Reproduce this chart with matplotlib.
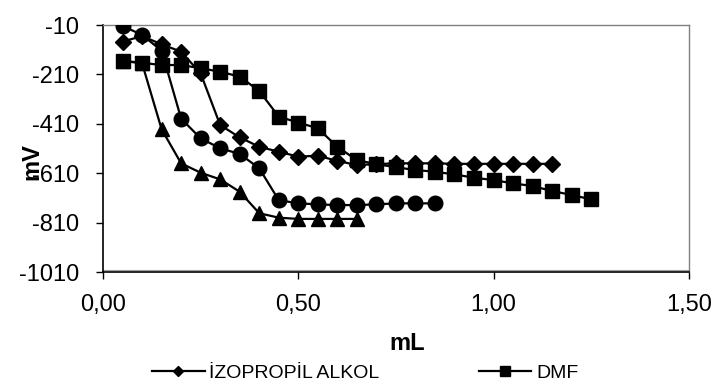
import matplotlib
matplotlib.use("Agg")
import matplotlib.pyplot as plt
from matplotlib.lines import Line2D
from matplotlib.ticker import FuncFormatter

plt.rcParams['font.family'] = ['Liberation Sans', 'DejaVu Sans']

# Data (mL vs mV)
x_izo = [0.05, 0.10, 0.15, 0.20, 0.25, 0.30, 0.35, 0.40, 0.45, 0.50, 0.55, 0.60, 0.65,
         0.70, 0.75, 0.80, 0.85, 0.90, 0.95, 1.00, 1.05, 1.10, 1.15]
y_izo = [-77, -55, -88, -118, -206, -415, -465, -503, -523, -543, -539, -560, -577,
         -573, -570, -570, -570, -572, -572, -572, -572, -572, -572]

x_dmf = [0.05, 0.10, 0.15, 0.20, 0.25, 0.30, 0.35, 0.40, 0.45, 0.50, 0.55, 0.60, 0.65,
         0.70, 0.75, 0.80, 0.85, 0.90, 0.95, 1.00, 1.05, 1.10, 1.15, 1.20, 1.25]
y_dmf = [-155, -163, -172, -172, -185, -199, -219, -277, -381, -405, -428, -503, -557,
         -573, -586, -597, -604, -615, -628, -638, -651, -662, -682, -698, -716]

x_circ = [0.05, 0.10, 0.15, 0.20, 0.25, 0.30, 0.35, 0.40, 0.45, 0.50, 0.55, 0.60, 0.65,
          0.70, 0.75, 0.80, 0.85]
y_circ = [-14, -50, -114, -389, -469, -509, -532, -590, -719, -732, -736, -739, -739,
          -736, -732, -732, -732]

x_tri = [0.05, 0.10, 0.15, 0.20, 0.25, 0.30, 0.35, 0.40, 0.45, 0.50, 0.55, 0.60, 0.65]
y_tri = [-155, -165, -432, -570, -608, -635, -685, -772, -790, -795, -795, -795, -795]

legend_labels = ['İZOPROPİL ALKOL', 'DMF']
yticks = [-1010, -810, -610, -410, -210, -10]
xticks = [0.0, 0.5, 1.0, 1.5]

fig = plt.figure(figsize=(7.19, 3.91), dpi=100)
ax = fig.add_axes([0.1433, 0.3043, 0.8147, 0.6317])

lw = 1.6
ax.plot(x_izo, y_izo, color='black', lw=lw, marker='D', ms=8, zorder=3)
ax.plot(x_dmf, y_dmf, color='black', lw=lw, marker='s', ms=9.5, zorder=4)
ax.plot(x_circ, y_circ, color='black', lw=lw, marker='o', ms=10.5, zorder=5)
ax.plot(x_tri, y_tri, color='black', lw=lw, marker='^', ms=9.5, zorder=6)

ax.set_xlim(0, 1.5)
ax.set_ylim(-1010, -10)
ax.set_xticks(xticks)
ax.set_yticks(yticks)
ax.xaxis.set_major_formatter(FuncFormatter(lambda v, p: f"{v:.2f}".replace('.', ',')))
ax.yaxis.set_major_formatter(FuncFormatter(lambda v, p: f"{int(v)}"))
ax.tick_params(axis='both', direction='out', length=5, width=1, labelsize=17, colors='black')
ax.tick_params(axis='x', pad=11)
ax.tick_params(axis='y', pad=12)

for s in ['top', 'right']:
    ax.spines[s].set_color('#808080')
    ax.spines[s].set_linewidth(1)
for s in ['left', 'bottom']:
    ax.spines[s].set_color('black')
    ax.spines[s].set_linewidth(1.2)
# thin grey plot-area border line just above the x axis
ax.axhline(-1010 + 8, color='#a0a0a0', lw=0.8, zorder=1)

ax.text(0.519, -0.28, 'mL', transform=ax.transAxes, ha='center', va='center_baseline',
        fontsize=17, fontweight='bold')
ax.text(-0.121, 0.449, 'mV', transform=ax.transAxes, ha='center', va='center',
        rotation=90, fontsize=17, fontweight='bold', zorder=10)

handles = [
    Line2D([], [], color='black', lw=1.6, marker='D', ms=5),
    Line2D([], [], color='black', lw=1.6, marker='s', ms=6.5),
]
fig.legend(handles, legend_labels, loc='center', bbox_to_anchor=(0.508, 0.046), ncol=2,
           frameon=False, fontsize=14, handlelength=2.7, handletextpad=0.25,
           columnspacing=5.1, borderpad=0)

fig.savefig('out.png', dpi=100)
